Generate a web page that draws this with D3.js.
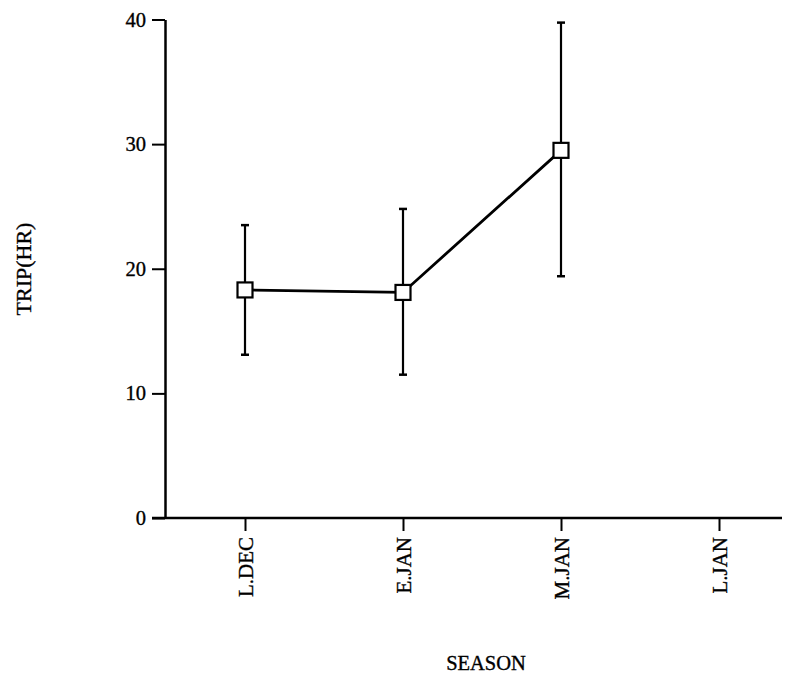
<!DOCTYPE html>
<html><head><meta charset="utf-8">
<script src="https://cdn.jsdelivr.net/npm/d3@7"></script>
<style>body{margin:0;background:#fff}svg{display:block}text{stroke:#000;stroke-width:0.35px}</style>
</head><body>
<script>
const categories = ["L.DEC", "E.JAN", "M.JAN", "L.JAN"];
const means = [18.3, 18.1, 29.5];
const lower = [13.1, 11.5, 19.4];
const upper = [23.5, 24.8, 39.75];
const yTicks = [0, 10, 20, 30, 40];

const W = 789, H = 676;
const font = "'Liberation Serif', 'Times New Roman', serif";
const svg = d3.select("body").append("svg").attr("width", W).attr("height", H);

const x = d3.scalePoint().domain(categories).range([245, 719]);
const y = d3.scaleLinear().domain([0, 40]).range([518, 19.5]);
const axisX = 165;

// y axis
const ya = svg.append("g").attr("transform", `translate(${axisX},0)`)
  .call(d3.axisLeft(y).tickValues(yTicks).tickSize(13).tickSizeOuter(0).tickPadding(6));
ya.select(".domain").attr("stroke", "#000").attr("stroke-width", 2.5);
ya.selectAll(".tick line").attr("stroke", "#000").attr("stroke-width", 2);
ya.selectAll(".tick text").attr("font-family", font).attr("font-size", 20.5).attr("fill", "#000");

// x axis
const xa = svg.append("g").attr("transform", `translate(0,${y(0)})`)
  .call(d3.axisBottom(x).tickSize(13).tickSizeOuter(0).tickPadding(6));
xa.select(".domain").attr("d", `M${axisX - 13},0H782`).attr("stroke", "#000").attr("stroke-width", 2.5);
xa.selectAll(".tick line").attr("stroke", "#000").attr("stroke-width", 2);
xa.selectAll(".tick text").attr("font-family", font).attr("font-size", 21).attr("fill", "#000")
  .attr("transform", "rotate(-90)").attr("text-anchor", "end")
  .attr("x", -19).attr("y", 0).attr("dy", "0.35em");

const pts = means.map((m, i) => ({c: categories[i], m, lo: lower[i], hi: upper[i]}));

// error bars
const eb = svg.append("g").attr("stroke", "#000").attr("stroke-width", 2.2);
pts.forEach(d => {
  eb.append("line").attr("x1", x(d.c)).attr("x2", x(d.c)).attr("y1", y(d.lo)).attr("y2", y(d.hi));
  eb.append("line").attr("x1", x(d.c) - 4).attr("x2", x(d.c) + 4).attr("y1", y(d.lo)).attr("y2", y(d.lo)).attr("stroke-width", 2.5);
  eb.append("line").attr("x1", x(d.c) - 4).attr("x2", x(d.c) + 4).attr("y1", y(d.hi)).attr("y2", y(d.hi)).attr("stroke-width", 2.5);
});

// line
svg.append("path").datum(pts)
  .attr("d", d3.line().x(d => x(d.c)).y(d => y(d.m)))
  .attr("fill", "none").attr("stroke", "#000").attr("stroke-width", 2.8);

// markers
svg.append("g").selectAll("rect").data(pts).join("rect")
  .attr("x", d => x(d.c) - 7.5).attr("y", d => y(d.m) - 7.5)
  .attr("width", 15).attr("height", 15)
  .attr("fill", "#fff").attr("stroke", "#000").attr("stroke-width", 2.2);

// axis titles
svg.append("text").attr("transform", "translate(31,269) rotate(-90)")
  .attr("text-anchor", "middle").attr("font-family", font).attr("font-size", 22).text("TRIP(HR)");
svg.append("text").attr("x", 486).attr("y", 670)
  .attr("text-anchor", "middle").attr("font-family", font).attr("font-size", 20.5).text("SEASON");
</script>
</body></html>
